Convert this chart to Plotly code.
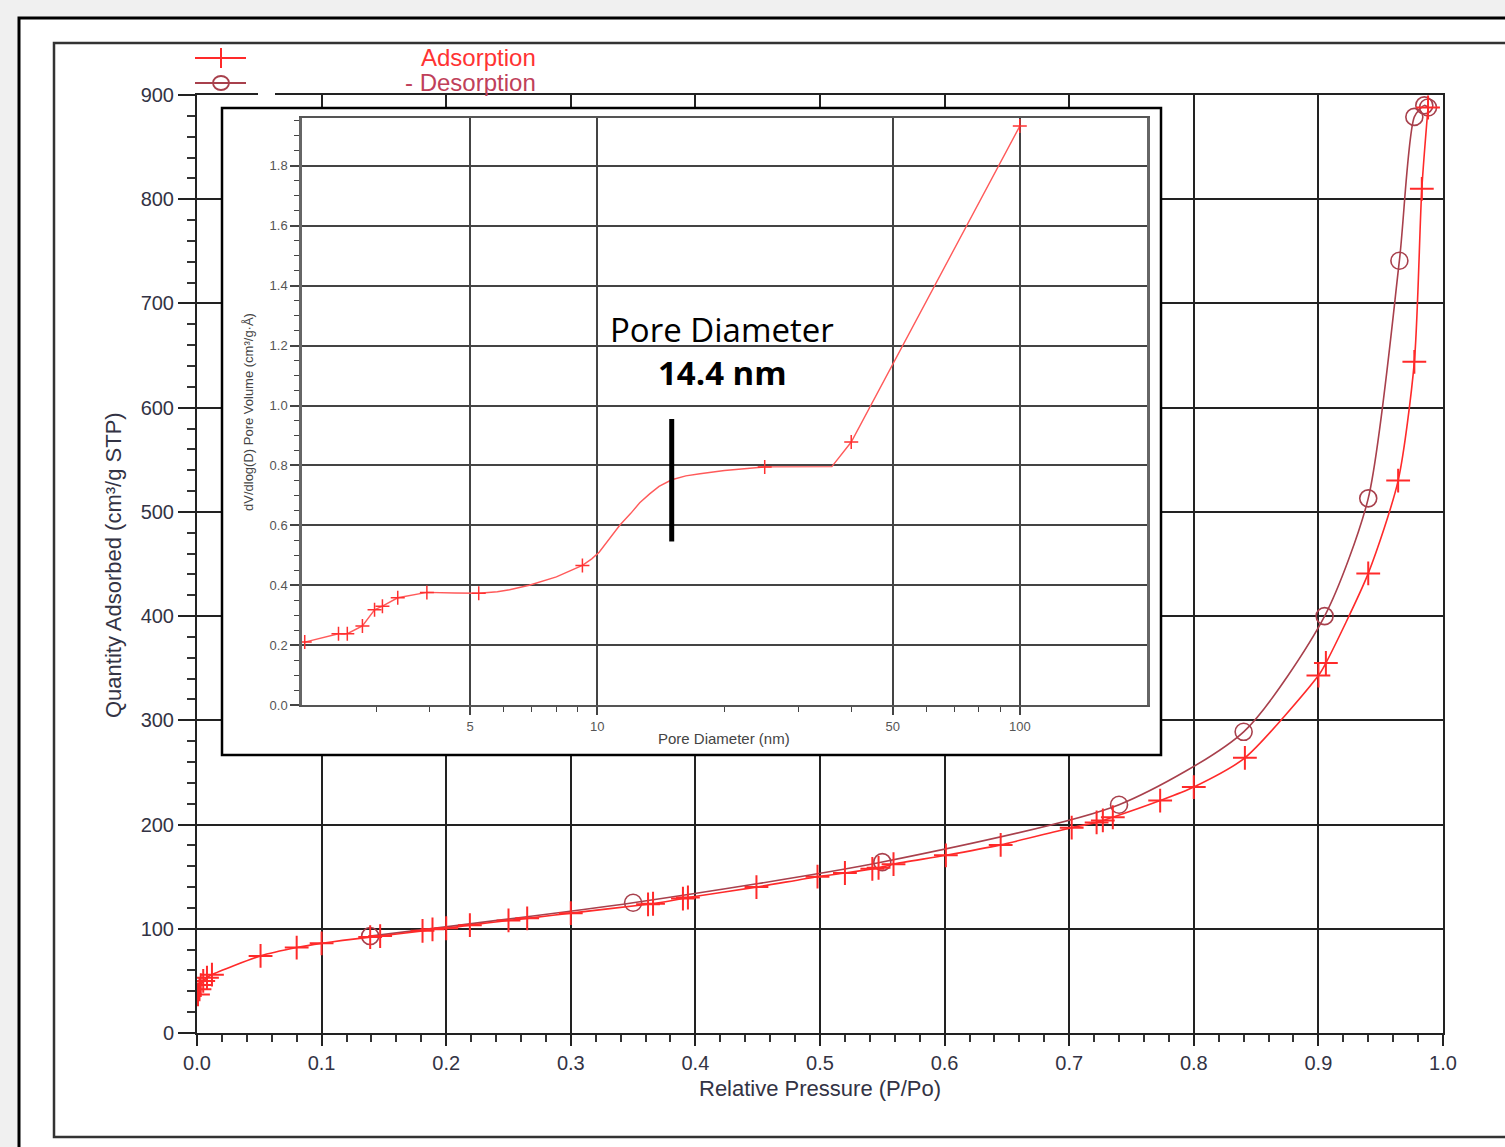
import plotly.graph_objects as go

# ---------------- data ----------------
ads_p = [0.0008, 0.002, 0.003, 0.005, 0.008, 0.012,
         0.051, 0.080, 0.100, 0.139, 0.147, 0.181, 0.189, 0.200, 0.219, 0.250, 0.265,
         0.300, 0.362, 0.366, 0.390, 0.394, 0.449, 0.498, 0.520, 0.542, 0.547, 0.559,
         0.601, 0.645, 0.702, 0.722, 0.727, 0.735, 0.773, 0.800, 0.841, 0.900, 0.906,
         0.940, 0.964, 0.977, 0.983, 0.988]
ads_q = [37, 42, 46, 50, 53, 56,
         74, 82, 86, 92, 93, 98, 99.5, 100.5, 103.5, 108, 110,
         115, 123.5, 124, 129, 130, 140, 150, 153.5, 157.5, 158.5, 162,
         170.5, 180.5, 197, 202, 204, 207, 223, 236, 264, 343, 355,
         441, 530, 644, 810, 888]

des_p = [0.988, 0.985, 0.977, 0.965, 0.940, 0.905, 0.840, 0.740, 0.550, 0.350, 0.139]
des_q = [888, 890, 879, 741, 513, 400, 289, 219, 164, 125, 93]

# inset: pore size distribution (marked points)
psd_d = [2.03, 2.44, 2.56, 2.78, 2.97, 3.10, 3.37, 3.95, 5.24, 9.22, 24.9, 39.9, 100]
psd_v = [0.21, 0.238, 0.238, 0.264, 0.318, 0.330, 0.358, 0.376, 0.373, 0.466, 0.795, 0.878, 1.933]
# points
psd_curve_d = [2.03, 2.44, 2.56, 2.78, 2.97, 3.10, 3.37, 3.95, 4.6, 5.24, 5.8, 6.2, 6.9, 8.0,
               9.22, 9.7, 10.1, 10.7, 11.3, 12.0, 12.6, 13.3, 14.0, 15.0, 16.2, 17.5, 20.0,
               24.9, 30.0, 35.9, 39.9, 100]
psd_curve_v = [0.21, 0.238, 0.238, 0.264, 0.318, 0.330, 0.358, 0.376, 0.374, 0.373, 0.378, 0.385, 0.400, 0.428,
               0.466, 0.488, 0.510, 0.555, 0.600, 0.640, 0.675, 0.705, 0.730, 0.752, 0.765, 0.772, 0.783,
               0.795, 0.796, 0.796, 0.878, 1.933]

marker_d = [15.0, 15.0]
marker_v = [0.955, 0.546]

x_ticks = [0.0, 0.1, 0.2, 0.3, 0.4, 0.5, 0.6, 0.7, 0.8, 0.9, 1.0]
y_ticks = [0, 100, 200, 300, 400, 500, 600, 700, 800, 900]
inset_x_ticks = [5, 10, 50, 100]
inset_x_minor = [3, 4, 6, 7, 8, 9, 20, 30, 40, 60, 70, 80, 90]

# ---------------- layout helpers ----------------
W, H = 1505, 1147
def px(x): return x / W
def py(y): return 1 - y / H

RED = '#ff2a2a'
BROWN = '#a8404c'
FONT = 'Liberation Sans, Arial, sans-serif'
GRID = '#222222'

fig = go.Figure()

# main isotherm
fig.add_trace(go.Scatter(x=des_p, y=des_q, mode='lines+markers',
                         line=dict(color=BROWN, width=1.6, shape='spline', smoothing=0.7),
                         marker=dict(symbol='circle-open', size=17, color=BROWN, line=dict(width=1.6, color=BROWN)),
                         xaxis='x', yaxis='y', hoverinfo='skip'))
fig.add_trace(go.Scatter(x=ads_p, y=ads_q, mode='lines+markers',
                         line=dict(color=RED, width=1.6, shape='spline', smoothing=0.7),
                         marker=dict(symbol='cross-thin', size=17, color=RED, line=dict(width=2, color=RED)),
                         xaxis='x', yaxis='y', hoverinfo='skip'))

# white inset box subplot (hides the main grid under the inset)
fig.add_trace(go.Scatter(x=[0], y=[0], mode='markers', marker=dict(opacity=0),
                         xaxis='x2', yaxis='y2', hoverinfo='skip'))

# inset PSD
fig.add_trace(go.Scatter(x=psd_curve_d, y=psd_curve_v, mode='lines',
                         line=dict(color='#ff5a5a', width=1.4),
                         xaxis='x3', yaxis='y3', hoverinfo='skip'))
fig.add_trace(go.Scatter(x=psd_d, y=psd_v, mode='markers',
                         marker=dict(symbol='cross-thin', size=10, color='#ff3030', line=dict(width=1.5, color='#ff3030')),
                         xaxis='x3', yaxis='y3', hoverinfo='skip'))
fig.add_trace(go.Scatter(x=marker_d, y=marker_v, mode='lines',
                         line=dict(color='black', width=5),
                         xaxis='x3', yaxis='y3', hoverinfo='skip'))

tickfont_main = dict(family=FONT, size=20, color='#333344')
tickfont_inset = dict(family=FONT, size=13, color='#555555')

fig.update_layout(
    width=W, height=H, margin=dict(l=0, r=0, t=0, b=0, autoexpand=False),
    paper_bgcolor='#f0f0f0', plot_bgcolor='white', showlegend=False,
    xaxis=dict(domain=[px(197), px(1443)], range=[0, 1], tickvals=x_ticks,
               ticktext=[f'{v:.1f}' for v in x_ticks], tickfont=tickfont_main,
               showgrid=True, gridcolor=GRID, gridwidth=2, zeroline=False,
               ticks='outside', ticklen=11, tickwidth=2, tickcolor=GRID,
               showline=True, linecolor=GRID, linewidth=2, mirror=True,
               minor=dict(dtick=0.02, ticks='outside', ticklen=7, tickwidth=1.5, tickcolor='#333', showgrid=False),
               anchor='y', fixedrange=True, automargin=False),
    yaxis=dict(domain=[py(1033), py(95)], range=[0, 900], tickvals=y_ticks,
               ticktext=[str(v) for v in y_ticks], tickfont=tickfont_main,
               showgrid=True, gridcolor=GRID, gridwidth=2, zeroline=False,
               ticks='outside', ticklen=17, tickwidth=2, tickcolor=GRID,
               showline=True, linecolor=GRID, linewidth=2, mirror=True,
               minor=dict(dtick=20, ticks='outside', ticklen=8, tickwidth=1.5, tickcolor='#333', showgrid=False),
               anchor='x', fixedrange=True, automargin=False),
    xaxis2=dict(domain=[px(222), px(1161)], range=[0, 1], visible=False, anchor='y2',
                fixedrange=True, automargin=False),
    yaxis2=dict(domain=[py(755), py(108)], range=[0, 1], visible=False, anchor='x2',
                fixedrange=True, automargin=False),
    xaxis3=dict(domain=[px(302), px(1147)], type='log', range=[0.30103, 2.30103],
                tickvals=inset_x_ticks, ticktext=[str(v) for v in inset_x_ticks], tickfont=tickfont_inset,
                showgrid=True, gridcolor='#444', gridwidth=1.5, zeroline=False,
                ticks='outside', ticklen=8, tickwidth=1.5, tickcolor='#444',
                showline=True, linecolor='#555', linewidth=2, mirror=True,
                minor=dict(tickvals=inset_x_minor, ticks='outside', ticklen=5, tickwidth=1.2, tickcolor='#444', showgrid=False),
                anchor='y3', fixedrange=True, automargin=False),
    yaxis3=dict(domain=[py(705), py(118)], range=[0, 1.96], dtick=0.2, tickformat='.1f', tickfont=tickfont_inset,
                showgrid=True, gridcolor='#444', gridwidth=1.5, zeroline=False,
                ticks='outside', ticklen=9, tickwidth=1.5, tickcolor='#444',
                showline=True, linecolor='#666', linewidth=2.5, mirror=True,
                minor=dict(dtick=0.05, ticks='outside', ticklen=5, tickwidth=1.2, tickcolor='#444', showgrid=False),
                anchor='x3', fixedrange=True, automargin=False),
)

shapes = [
    # outer frame
    dict(type='rect', xref='paper', yref='paper', x0=px(19), x1=px(1520), y0=py(18), y1=py(1160),
         line=dict(color='black', width=3), fillcolor='white', layer='below'),
    # inner frame
    dict(type='rect', xref='paper', yref='paper', x0=px(54), x1=px(1520), y0=py(43), y1=py(1137),
         line=dict(color='#333', width=2.5), fillcolor='rgba(0,0,0,0)', layer='below'),
    # inset border
    dict(type='rect', xref='paper', yref='paper', x0=px(222), x1=px(1161), y0=py(108), y1=py(755),
         line=dict(color='black', width=2.5), fillcolor='rgba(0,0,0,0)', layer='above'),
    # gap in the top border next to the legend
    dict(type='rect', xref='paper', yref='paper', x0=px(258), x1=px(275), y0=py(92), y1=py(98),
         line=dict(width=0), fillcolor='white', layer='above'),
    # legend glyphs
    dict(type='line', xref='paper', yref='paper', x0=px(195), x1=px(246), y0=py(58), y1=py(58),
         line=dict(color=RED, width=2)),
    dict(type='line', xref='paper', yref='paper', x0=px(221), x1=px(221), y0=py(48), y1=py(68),
         line=dict(color=RED, width=2)),
    dict(type='line', xref='paper', yref='paper', x0=px(195), x1=px(246), y0=py(83), y1=py(83),
         line=dict(color=BROWN, width=2)),
    dict(type='circle', xref='paper', yref='paper', x0=px(213), x1=px(229), y0=py(76), y1=py(90),
         line=dict(color=BROWN, width=1.8), fillcolor='rgba(0,0,0,0)'),
]
fig.update_layout(shapes=shapes)

ann = [
    dict(text='Relative Pressure (P/Po)', x=px(820), y=py(1088), font=dict(family=FONT, size=22, color='#333344')),
    dict(text='Quantity Adsorbed (cm³/g STP)', x=px(113), y=py(565), textangle=-90,
         font=dict(family=FONT, size=22, color='#333344')),
    dict(text='Adsorption', x=px(538), y=py(58), xanchor='right', font=dict(family=FONT, size=24, color='#ff3333')),
    dict(text='- Desorption', x=px(538), y=py(83), xanchor='right', font=dict(family=FONT, size=24, color='#c0405a')),
    dict(text='Pore Diameter (nm)', x=px(724), y=py(738), font=dict(family=FONT, size=15, color='#444')),
    dict(text='dV/dlog(D) Pore Volume (cm³/g·Å)', x=px(248), y=py(412), textangle=-90,
         font=dict(family=FONT, size=13, color='#444')),
    dict(text='Pore Diameter', x=px(722), y=py(329), font=dict(family='Open Sans, sans-serif', size=33, color='black')),
    dict(text='<b>14.4 nm</b>', x=px(722), y=py(372), font=dict(family='Open Sans, sans-serif', size=33, color='black')),
]
for a in ann:
    a.setdefault('xref', 'paper'); a.setdefault('yref', 'paper'); a.setdefault('showarrow', False)
    a.setdefault('xanchor', 'center'); a.setdefault('yanchor', 'middle')
fig.update_layout(annotations=ann)

fig.write_html("out.html", config={'displayModeBar': False},
               post_script="document.body.style.margin='0';")
